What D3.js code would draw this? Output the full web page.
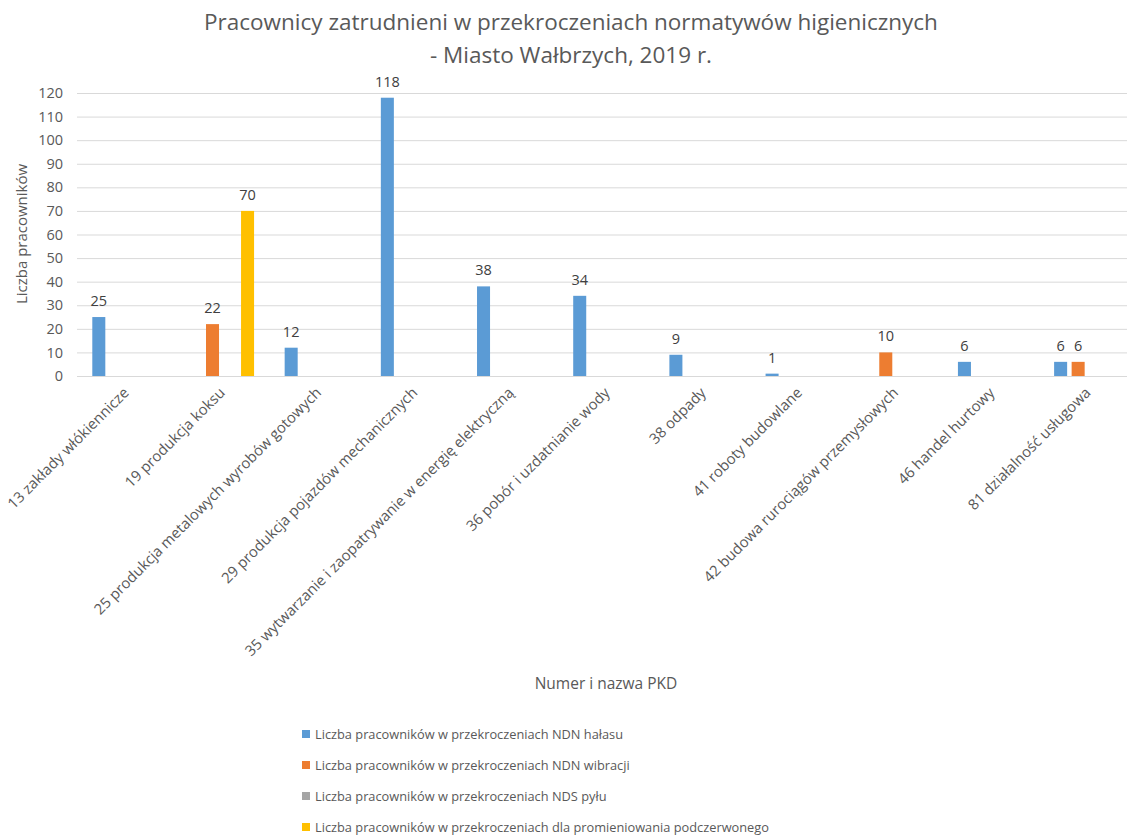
<!DOCTYPE html>
<html>
<head>
<meta charset="utf-8">
<script src="https://cdn.jsdelivr.net/npm/d3@7"></script>
<style>
	body { margin: 0; background: #fff; }
	svg { display: block; font-family: 'Open Sans', sans-serif; }
</style>
</head>
<body>
<div id="chart"></div>
<script>
// categories (PKD)
const categories = [
	'13 zakłady włókiennicze',
	'19 produkcja koksu',
	'25 produkcja metalowych wyrobów gotowych',
	'29 produkcja pojazdów mechanicznych',
	'35 wytwarzanie i zaopatrywanie w energię elektryczną',
	'36 pobór i uzdatnianie wody',
	'38 odpady',
	'41 roboty budowlane',
	'42 budowa rurociągów przemysłowych',
	'46 handel hurtowy',
	'81 działalność usługowa',
]
const seriesNames = [
	'Liczba pracowników w przekroczeniach NDN hałasu',
	'Liczba pracowników w przekroczeniach NDN wibracji',
	'Liczba pracowników w przekroczeniach NDS pyłu',
	'Liczba pracowników w przekroczeniach dla promieniowania podczerwonego',
]
const halas = [25, null, 12, 118, 38, 34, 9, 1, null, 6, 6]
const wibracje = [null, 22, null, null, null, null, null, null, 10, null, 6]
const pyl = [null, null, null, null, null, null, null, null, null, null, null]
const podczerwien = [null, 70, null, null, null, null, null, null, null, null, null]
const yTicks = [0, 10, 20, 30, 40, 50, 60, 70, 80, 90, 100, 110, 120]

const seriesValues = [halas, wibracje, pyl, podczerwien]
const colors = ['#5B9BD5', '#ED7D31', '#A5A5A5', '#FFC000']

const width = 1127
const height = 836
const plot = { left: 77, right: 1135, top: 93, bottom: 376 }

const svg = d3.select('#chart').append('svg').attr('width', width).attr('height', height)

const x = d3.scaleBand().domain(categories).range([plot.left, plot.right]).padding(0)
const xs = d3.scaleBand().domain(d3.range(4)).range([0, x.bandwidth()]).paddingInner(0.257).paddingOuter(0.873)
const y = d3.scaleLinear().domain([0, 120]).range([plot.bottom, plot.top])

// title
const title = svg.append('text')
	.attr('text-anchor', 'middle')
	.attr('font-size', 22.5)
	.attr('fill', '#595959')
title.append('tspan').attr('x', 571).attr('y', 30).text('Pracownicy zatrudnieni w przekroczeniach normatywów higienicznych')
title.append('tspan').attr('x', 571).attr('y', 63).text('- Miasto Wałbrzych, 2019 r.')

// gridlines + y ticks
const yAxis = d3.axisLeft(y).tickValues(yTicks).tickSize(-(width - plot.left)).tickPadding(14)
svg.append('g')
	.attr('transform', `translate(${plot.left},0)`)
	.call(yAxis)
	.call(g => g.select('.domain').remove())
	.call(g => g.selectAll('.tick line').attr('stroke', '#d9d9d9').attr('stroke-width', 1))
	.call(g => g.selectAll('.tick text').attr('fill', '#595959').attr('font-size', 14.5).attr('font-family', 'Open Sans, sans-serif'))

// y axis title
svg.append('text')
	.attr('transform', 'translate(27,234) rotate(-90)')
	.attr('text-anchor', 'middle')
	.attr('font-size', 15)
	.attr('fill', '#595959')
	.text('Liczba pracowników')

// bars
const rows = []
seriesValues.forEach((vals, s) => {
	vals.forEach((v, i) => {
		if (v != null) rows.push({ s, cat: categories[i], v })
	})
})

svg.append('g')
	.selectAll('rect')
	.data(rows)
	.join('rect')
	.attr('x', d => x(d.cat) + xs(d.s))
	.attr('y', d => y(d.v))
	.attr('width', xs.bandwidth())
	.attr('height', d => y(0) - y(d.v))
	.attr('fill', d => colors[d.s])

// data labels
svg.append('g')
	.selectAll('text')
	.data(rows)
	.join('text')
	.attr('x', d => x(d.cat) + xs(d.s) + xs.bandwidth() / 2)
	.attr('y', d => y(d.v) - 11)
	.attr('text-anchor', 'middle')
	.attr('font-size', 14.5)
	.attr('fill', '#404040')
	.text(d => d.v)

// x category labels
svg.append('g')
	.selectAll('text')
	.data(categories)
	.join('text')
	.attr('transform', d => `translate(${x(d) + x.bandwidth() / 2 + 1},${plot.bottom + 14}) rotate(-45)`)
	.attr('text-anchor', 'end')
	.attr('dy', '0.35em')
	.attr('font-size', 14.8)
	.attr('fill', '#595959')
	.text(d => d)

// x axis title
svg.append('text')
	.attr('x', 606)
	.attr('y', 689)
	.attr('text-anchor', 'middle')
	.attr('font-size', 15.5)
	.attr('fill', '#595959')
	.text('Numer i nazwa PKD')

// legend
const legend = svg.append('g')
	.selectAll('g')
	.data(seriesNames)
	.join('g')
	.attr('transform', (d, i) => `translate(302,${735 + i * 31})`)
legend.append('rect')
	.attr('x', 0)
	.attr('y', -5)
	.attr('width', 8)
	.attr('height', 8)
	.attr('fill', (d, i) => colors[i])
legend.append('text')
	.attr('x', 13)
	.attr('dy', '0.35em')
	.attr('font-size', 12.8)
	.attr('fill', '#595959')
	.text(d => d)
</script>
</body>
</html>
